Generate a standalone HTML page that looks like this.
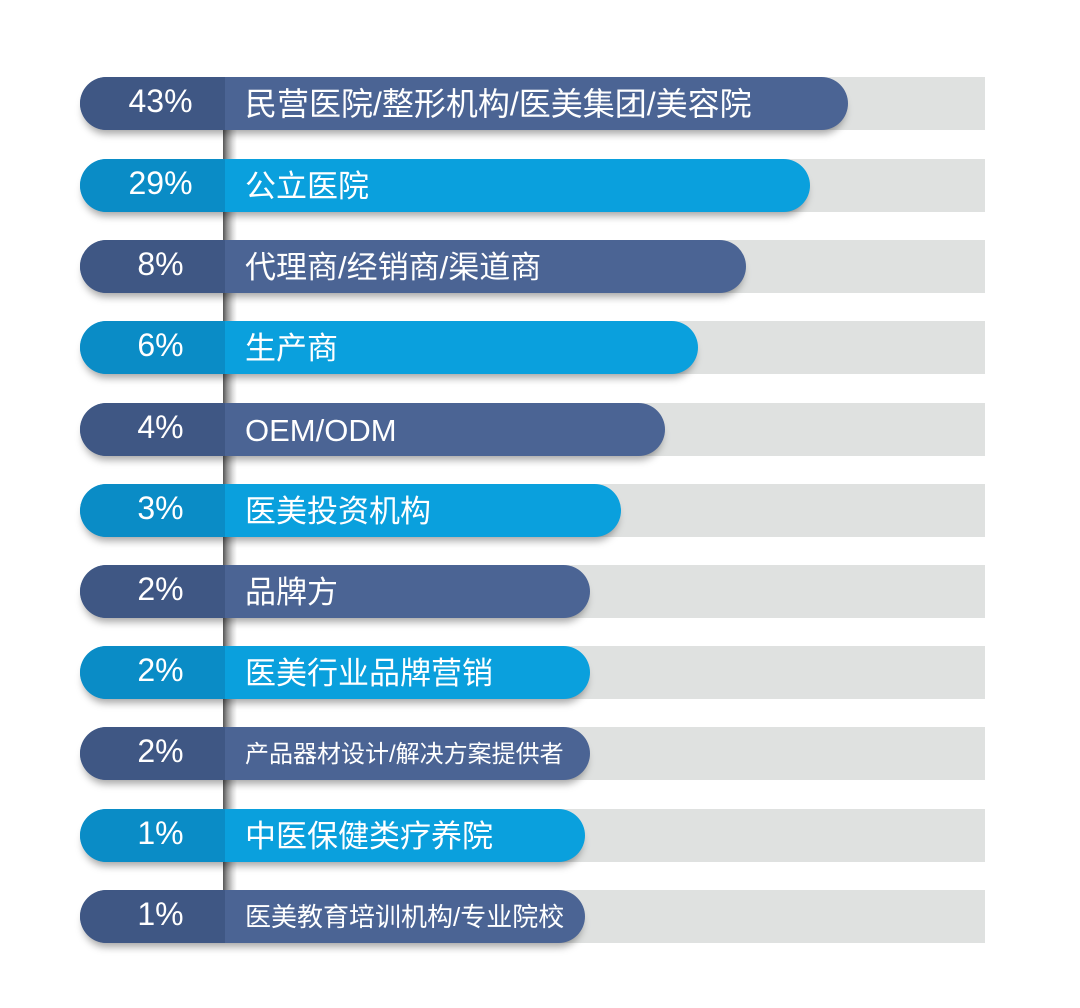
<!DOCTYPE html>
<html><head><meta charset="utf-8"><style>
body{margin:0;width:1080px;height:1008px;background:#fff;position:relative;overflow:hidden;font-family:"Liberation Sans","Noto Sans CJK SC",sans-serif}
.bg{position:absolute;left:225px;width:760px;height:53px;background:#dfe1e0}
.bar{position:absolute;left:80px;height:53px;border-radius:27px;box-shadow:0 7px 8px -3px rgba(0,0,0,0.35);overflow:hidden}
.d{background:#4b6494}.d .l{background:#3f5784}
.b{background:#0aa0dd}.b .l{background:#0a8cc6}
.l{position:absolute;left:0;top:0;width:145px;height:100%}
.p{position:absolute;left:8px;width:145px;text-align:center;color:#fff;font-size:32px;line-height:53px;top:-2px}
.t{position:absolute;left:165px;color:#fff;font-size:31px;line-height:53px;top:1px;white-space:nowrap}
.v{position:absolute;left:223px;width:14px;top:130px;height:760px;background:linear-gradient(90deg,#555 0%,#999 30%,#ddd 70%,#fff 100%)}
</style></head><body>
<div class="v"></div>
<div class="bg" style="top:77px"></div><div class="bar d" style="top:77px;width:768px"><div class="l"></div><div class="p">43%</div><div class="t" style="font-size:32px">民营医院/整形机构/医美集团/美容院</div></div>
<div class="bg" style="top:159px"></div><div class="bar b" style="top:159px;width:730px"><div class="l"></div><div class="p">29%</div><div class="t">公立医院</div></div>
<div class="bg" style="top:240px"></div><div class="bar d" style="top:240px;width:666px"><div class="l"></div><div class="p">8%</div><div class="t">代理商/经销商/渠道商</div></div>
<div class="bg" style="top:321px"></div><div class="bar b" style="top:321px;width:618px"><div class="l"></div><div class="p">6%</div><div class="t">生产商</div></div>
<div class="bg" style="top:403px"></div><div class="bar d" style="top:403px;width:585px"><div class="l"></div><div class="p">4%</div><div class="t">OEM/ODM</div></div>
<div class="bg" style="top:484px"></div><div class="bar b" style="top:484px;width:541px"><div class="l"></div><div class="p">3%</div><div class="t">医美投资机构</div></div>
<div class="bg" style="top:565px"></div><div class="bar d" style="top:565px;width:510px"><div class="l"></div><div class="p">2%</div><div class="t">品牌方</div></div>
<div class="bg" style="top:646px"></div><div class="bar b" style="top:646px;width:510px"><div class="l"></div><div class="p">2%</div><div class="t">医美行业品牌营销</div></div>
<div class="bg" style="top:727px"></div><div class="bar d" style="top:727px;width:510px"><div class="l"></div><div class="p">2%</div><div class="t" style="font-size:24px">产品器材设计/解决方案提供者</div></div>
<div class="bg" style="top:809px"></div><div class="bar b" style="top:809px;width:505px"><div class="l"></div><div class="p">1%</div><div class="t">中医保健类疗养院</div></div>
<div class="bg" style="top:890px"></div><div class="bar d" style="top:890px;width:505px"><div class="l"></div><div class="p">1%</div><div class="t" style="font-size:26px">医美教育培训机构/专业院校</div></div>
</body></html>
